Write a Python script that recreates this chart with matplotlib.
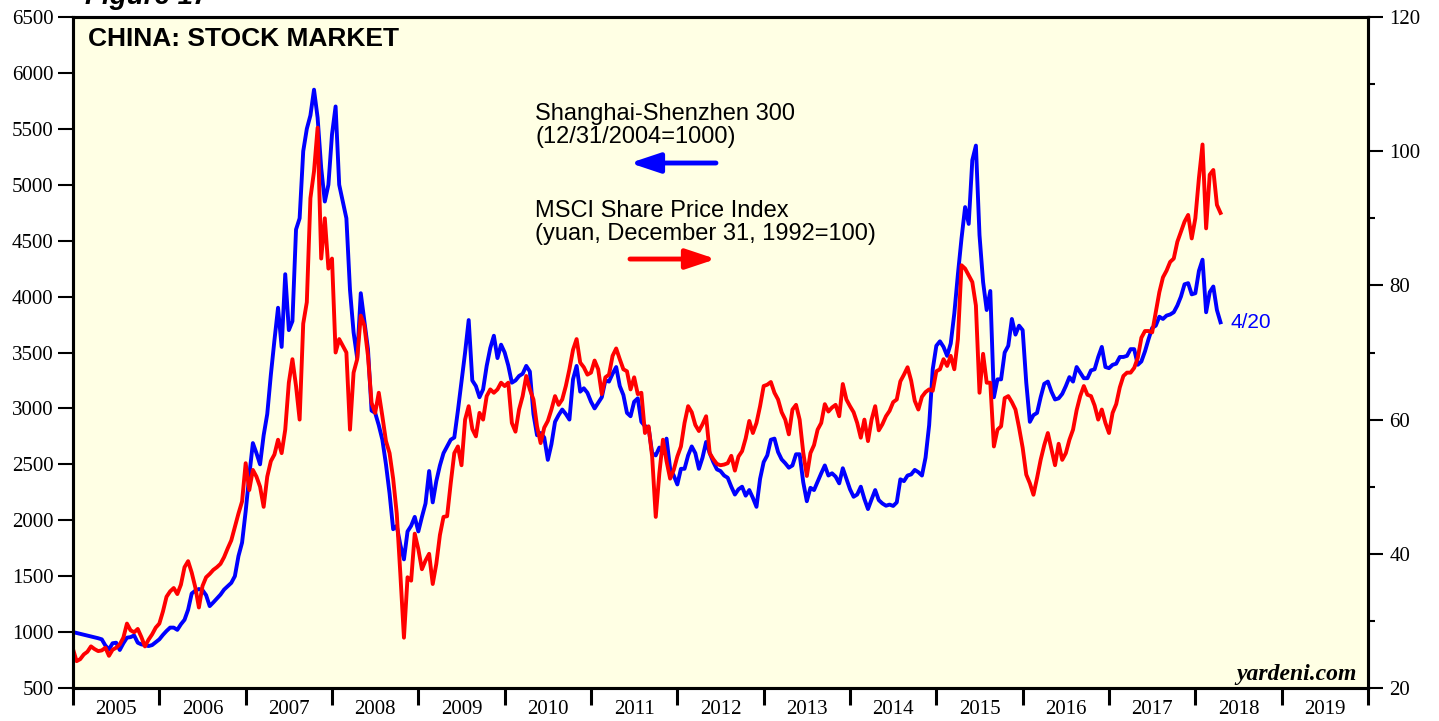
import numpy as np
import matplotlib
matplotlib.use("Agg")
import matplotlib.pyplot as plt
from matplotlib.ticker import MultipleLocator

nan = np.nan

# Shanghai-Shenzhen 300 (left axis), semi-monthly readings
blue_2005 = [1000, nan, nan, nan, nan, nan, nan, 945, 935, 880, 845, 900, 905, 840, 900, 950, 955, 970, 905, 890, 884, 875, 884, 910]
blue_2006 = [935, 975, 1010, 1040, 1040, 1020, 1070, 1110, 1200, 1345, 1370, 1385, 1375, 1330, 1232, 1265, 1300, 1335, 1380, 1410, 1440, 1500, 1680, 1800]
blue_2007 = [2080, 2400, 2690, 2600, 2500, 2760, 2950, 3300, 3610, 3900, 3550, 4200, 3700, 3780, 4600, 4700, 5300, 5500, 5620, 5850, 5600, 5150, 4850, 5000]
blue_2008 = [5450, 5700, 5000, 4850, 4700, 4060, 3680, 3450, 4030, 3780, 3530, 2980, 2960, 2850, 2720, 2500, 2240, 1920, 1950, 1780, 1650, 1900, 1950, 2030]
blue_2009 = [1900, 2030, 2150, 2440, 2160, 2350, 2490, 2600, 2660, 2720, 2740, 2980, 3240, 3500, 3790, 3250, 3200, 3100, 3170, 3380, 3540, 3650, 3450, 3570]
blue_2010 = [3500, 3384, 3230, 3250, 3290, 3310, 3380, 3330, 2950, 2760, 2780, 2740, 2540, 2680, 2880, 2940, 2990, 2950, 2900, 3260, 3380, 3150, 3180, 3140]
blue_2011 = [3060, 3000, 3050, 3100, 3250, 3240, 3310, 3370, 3200, 3120, 2960, 2930, 3060, 3090, 2880, 2842, 2830, 2600, 2580, 2650, 2600, 2730, 2460, 2400]
blue_2012 = [2320, 2460, 2460, 2580, 2660, 2600, 2460, 2560, 2700, 2600, 2520, 2455, 2440, 2400, 2380, 2300, 2230, 2277, 2300, 2220, 2270, 2200, 2120, 2370]
blue_2013 = [2520, 2580, 2720, 2730, 2610, 2544, 2510, 2470, 2490, 2590, 2590, 2340, 2170, 2290, 2270, 2345, 2420, 2490, 2400, 2420, 2390, 2330, 2465, 2370]
blue_2014 = [2277, 2210, 2230, 2300, 2190, 2100, 2187, 2270, 2180, 2150, 2130, 2140, 2128, 2160, 2366, 2350, 2400, 2410, 2450, 2430, 2400, 2560, 2850, 3350]
blue_2015 = [3560, 3600, 3550, 3470, 3580, 3850, 4200, 4520, 4800, 4650, 5220, 5350, 4550, 4130, 3880, 4050, 3100, 3260, 3260, 3500, 3560, 3800, 3660, 3740]
blue_2016 = [3700, 3230, 2880, 2940, 2960, 3100, 3220, 3240, 3150, 3080, 3090, 3130, 3200, 3280, 3240, 3370, 3320, 3270, 3270, 3340, 3350, 3460, 3550, 3370]
blue_2017 = [3360, 3390, 3400, 3460, 3460, 3470, 3530, 3530, 3390, 3420, 3510, 3620, 3720, 3740, 3820, 3800, 3830, 3840, 3860, 3920, 4000, 4110, 4120, 4020]
blue_2018 = [4030, 4230, 4330, 3860, 4040, 4090, 3880, 3770]

# MSCI share price index in yuan (right axis)
red_2005 = [25.8, 24.0, 24.3, 25.0, 25.4, 26.2, 25.8, 25.5, 25.6, 26.0, 24.8, 25.7, 26.0, 26.5, 27.5, 29.6, 28.6, 28.3, 28.8, 27.6, 26.2, 27.2, 28.0, 29.0]
red_2006 = [29.6, 31.4, 33.6, 34.4, 34.9, 34.0, 35.4, 38.0, 38.9, 37.2, 35.0, 32.0, 35.2, 36.5, 37.0, 37.6, 38.0, 38.5, 39.5, 40.8, 42.0, 44.0, 46.0, 47.8]
red_2007 = [53.5, 49.5, 52.5, 51.5, 50.0, 47.0, 51.5, 53.8, 54.8, 57.0, 55.0, 58.5, 65.5, 69.0, 65.0, 60.0, 74.3, 77.5, 93.0, 97.0, 103.5, 84.0, 90.0, 82.5]
red_2008 = [84.0, 70.0, 72.0, 71.0, 70.0, 58.5, 67.0, 69.0, 75.5, 74.0, 69.5, 62.5, 61.0, 64.0, 60.5, 56.8, 55.0, 51.2, 46.0, 37.0, 27.5, 36.5, 36.0, 43.0]
red_2009 = [40.7, 37.7, 39.0, 40.0, 35.5, 38.5, 42.8, 45.5, 45.6, 50.5, 55.0, 56.0, 53.2, 60.0, 62.0, 58.6, 57.5, 61.0, 60.0, 63.5, 64.5, 64.0, 64.5, 65.5]
red_2010 = [65.0, 65.5, 59.5, 58.2, 61.5, 63.5, 66.5, 64.5, 63.0, 59.0, 56.5, 58.8, 59.8, 61.5, 63.5, 62.2, 63.0, 65.0, 67.5, 70.4, 72.0, 68.5, 67.8, 66.7]
red_2011 = [67.0, 68.8, 67.5, 63.8, 66.3, 66.7, 69.5, 70.6, 69.0, 67.5, 67.2, 64.5, 66.3, 63.8, 64.0, 58.0, 59.0, 54.5, 45.5, 52.0, 57.0, 53.8, 51.2, 52.5]
red_2012 = [54.5, 56.0, 59.5, 62.0, 61.1, 59.2, 58.3, 59.3, 60.5, 55.0, 54.1, 53.4, 53.2, 53.3, 53.5, 54.6, 52.4, 54.5, 55.3, 57.2, 59.8, 58.0, 59.5, 62.0]
red_2013 = [65.0, 65.2, 65.6, 64.0, 63.0, 61.1, 60.0, 57.8, 61.5, 62.2, 60.0, 55.1, 51.6, 55.0, 56.2, 58.5, 59.5, 62.3, 61.2, 61.8, 62.2, 60.5, 65.3, 63.0]
red_2014 = [62.0, 61.1, 59.5, 57.3, 60.0, 56.8, 60.0, 62.0, 58.4, 59.3, 60.5, 61.3, 62.6, 63.0, 65.7, 66.7, 67.8, 65.8, 62.8, 61.5, 63.4, 64.1, 64.5, 64.3]
red_2015 = [67.2, 67.5, 69.0, 68.0, 69.5, 67.5, 72.0, 83.0, 82.5, 81.5, 80.5, 77.0, 64.0, 69.8, 65.5, 65.5, 56.0, 58.5, 59.0, 63.2, 63.5, 62.6, 61.5, 58.8]
red_2016 = [55.8, 51.8, 50.5, 48.8, 51.3, 54.0, 56.2, 58.0, 55.6, 53.2, 56.4, 54.0, 55.0, 57.0, 58.5, 61.4, 63.5, 65.0, 63.7, 63.5, 62.1, 60.0, 61.5, 59.5]
red_2017 = [58.0, 61.0, 62.3, 64.8, 66.5, 67.0, 67.0, 67.7, 69.2, 72.2, 73.2, 73.2, 73.0, 76.0, 79.0, 81.2, 82.2, 83.5, 84.0, 86.5, 88.0, 89.5, 90.5, 87.0]
red_2018 = [90.0, 96.0, 101.0, 88.5, 96.5, 97.2, 92.0, 90.8]

year_labels = [str(y) for y in range(2005, 2020)]

csi300 = np.array(blue_2005 + blue_2006 + blue_2007 + blue_2008 + blue_2009 + blue_2010 + blue_2011
                  + blue_2012 + blue_2013 + blue_2014 + blue_2015 + blue_2016 + blue_2017 + blue_2018, dtype=float)
msci = np.array(red_2005 + red_2006 + red_2007 + red_2008 + red_2009 + red_2010 + red_2011
                + red_2012 + red_2013 + red_2014 + red_2015 + red_2016 + red_2017 + red_2018, dtype=float)
dates = 2005 + np.arange(len(csi300)) / 24.0

plt.rcParams['font.family'] = ['Liberation Serif', 'DejaVu Serif']
SANS = ['Liberation Sans', 'DejaVu Sans']

fig = plt.figure(figsize=(14.39, 7.21), dpi=100)
ax = fig.add_axes([73 / 1439, 1 - 688 / 721, 1295 / 1439, 671 / 721])
ax.set_facecolor('#ffffe4')

# blue line: skip the missing early-2005 readings so the gap is bridged
ok = ~np.isnan(csi300)
ax.plot(dates[ok], csi300[ok], color='#0000ff', lw=2.8, solid_joinstyle='round')
ax.set_xlim(2005, 2020)
ax.set_ylim(500, 6500)

ax2 = ax.twinx()
ax2.plot(dates, msci, color='#ff0000', lw=2.8, solid_joinstyle='round')
ax2.set_ylim(20, 120)

for a in (ax, ax2):
    for s in a.spines.values():
        s.set_linewidth(2.2)

ax.yaxis.set_major_locator(MultipleLocator(500))
ax.tick_params(axis='y', direction='out', length=10.5, width=1.5, labelsize=15, pad=3.5)
ax.set_xticks(np.arange(2005, 2021))
ax.set_xticklabels([])
ax.set_xticks(np.arange(2005.5, 2020), minor=True)
ax.set_xticklabels(year_labels, minor=True)
ax.tick_params(axis='x', which='major', direction='out', length=12, width=2.2)
ax.tick_params(axis='x', which='minor', length=0, labelsize=15, pad=9)

ax2.yaxis.set_major_locator(MultipleLocator(20))
ax2.yaxis.set_minor_locator(MultipleLocator(10))
ax2.tick_params(axis='y', which='major', direction='out', length=10.5, width=1.5, labelsize=15, pad=5)
ax2.tick_params(axis='y', which='minor', direction='out', length=5, width=1.5)

# texts and arrows
ax.text(0.0116, 0.985, 'CHINA: STOCK MARKET', transform=ax.transAxes, family=SANS,
        fontsize=19, fontweight='bold', va='top', ha='left')
ax.text(0.3568, 0.872, 'Shanghai-Shenzhen 300\n(12/31/2004=1000)', transform=ax.transAxes,
        family=SANS, fontsize=17, va='top', ha='left', linespacing=1.05)
ax.text(0.3568, 0.727, 'MSCI Share Price Index\n(yuan, December 31, 1992=100)', transform=ax.transAxes,
        family=SANS, fontsize=17, va='top', ha='left', linespacing=1.05)
ax.annotate('', xy=(0.4301, 0.7824), xytext=(0.4965, 0.7824), xycoords='axes fraction',
            arrowprops=dict(arrowstyle='-|>,head_length=0.9,head_width=0.3', color='#0000ff',
                            lw=3.5, mutation_scale=20, shrinkA=0, shrinkB=0))
ax.annotate('', xy=(0.4965, 0.6393), xytext=(0.4301, 0.6393), xycoords='axes fraction',
            arrowprops=dict(arrowstyle='-|>,head_length=0.9,head_width=0.3', color='#ff0000',
                            lw=3.5, mutation_scale=20, shrinkA=0, shrinkB=0))
ax.annotate('4/20', xy=(dates[-1], csi300[-1]), xytext=(7, 0), textcoords='offset points',
            color='#0000ff', family=SANS, fontsize=15, va='center', ha='left')
ax.text(0.9915, 0.012, 'yardeni.com', transform=ax.transAxes, fontsize=17,
        fontweight='bold', style='italic', ha='right', va='baseline')
# figure caption sits mostly above the top edge, as in the reference
fig.text(85 / 1439, 1 - 4 / 721, 'Figure 17', family=SANS, fontsize=20,
         fontweight='bold', style='italic', ha='left', va='baseline')

fig.savefig('out.png', dpi=100)
